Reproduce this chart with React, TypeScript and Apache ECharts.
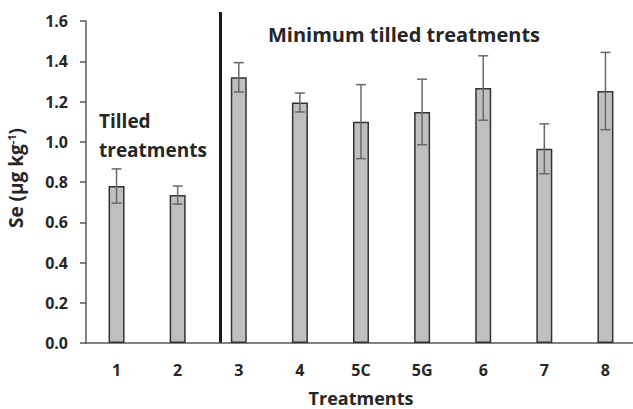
import React, { useEffect, useRef } from "react";
import * as echarts from "echarts";

const categories = ["1", "2", "3", "4", "5C", "5G", "6", "7", "8"];
const seMeans = [0.78, 0.735, 1.32, 1.195, 1.1, 1.148, 1.267, 0.965, 1.252];
const seErrors = [0.085, 0.045, 0.073, 0.047, 0.184, 0.163, 0.16, 0.124, 0.192];
const yTicks = { min: 0, max: 1.6, interval: 0.2 };

const FONT = "Open Sans";

export default function App() {
  const ref = useRef<HTMLDivElement>(null);
  useEffect(() => {
    document.body.style.margin = "0";
    document.body.style.overflow = "hidden";
    const chart = echarts.init(ref.current!, null, { renderer: "svg" });
    const errData = categories.map((c, i) => [i, seMeans[i] - seErrors[i], seMeans[i] + seErrors[i]]);
    chart.setOption({
      animation: false,
      backgroundColor: "#ffffff",
      grid: { left: 86, top: 21, bottom: 66, right: -3, containLabel: false, outerBoundsMode: "none" },
      xAxis: {
        type: "category",
        data: categories,
        axisLine: { lineStyle: { color: "#595959", width: 1.5 } },
        axisTick: { show: false },
        axisLabel: { color: "#262626", fontFamily: FONT, fontWeight: "bold", fontSize: 16, margin: 19 },
        name: "Treatments",
        nameLocation: "middle",
        nameGap: 46,
        nameTextStyle: { color: "#262626", fontFamily: FONT, fontWeight: "bold", fontSize: 18 },
      },
      yAxis: {
        type: "value",
        min: yTicks.min,
        max: yTicks.max,
        interval: yTicks.interval,
        splitLine: { show: false },
        axisLine: { show: true, lineStyle: { color: "#595959", width: 1.5 } },
        axisTick: { show: true, length: 6, lineStyle: { color: "#595959", width: 1.5 } },
        axisLabel: {
          color: "#262626", fontFamily: FONT, fontWeight: "bold", fontSize: 16, margin: 18,
          formatter: (v: number) => v.toFixed(1),
        },
        name: "{a|Se (µg kg}{s|-1}{a|)}",
        nameLocation: "middle",
        nameGap: 61,
        nameRotate: 90,
        nameTextStyle: {
          padding: [0, 0, 0, 8],
          rich: {
            a: { color: "#262626", fontFamily: FONT, fontWeight: "bold", fontSize: 19 },
            s: { color: "#262626", fontFamily: FONT, fontWeight: "bold", fontSize: 11, verticalAlign: "top", padding: [0, 0, 8, 0] },
          },
        },
      },
      series: [
        {
          type: "bar",
          data: seMeans,
          barWidth: 16,
          itemStyle: { color: "#bfbfbf", borderColor: "#333333", borderWidth: 1.5 },
        },
        {
          type: "custom",
          data: errData,
          z: 10,
          renderItem: (params: any, api: any) => {
            const x = api.coord([api.value(0), 0])[0];
            const lo = api.coord([api.value(0), api.value(1)])[1];
            const hi = api.coord([api.value(0), api.value(2)])[1];
            const hw = 5;
            const st = { stroke: "#686868", lineWidth: 1.5 };
            return {
              type: "group",
              children: [
                { type: "line", shape: { x1: x, y1: lo, x2: x, y2: hi }, style: st },
                { type: "line", shape: { x1: x - hw, y1: lo, x2: x + hw, y2: lo }, style: st },
                { type: "line", shape: { x1: x - hw, y1: hi, x2: x + hw, y2: hi }, style: st },
              ],
            };
          },
        },
      ],
      graphic: [
        { type: "line", shape: { x1: 220.5, y1: 12, x2: 220.5, y2: 343 }, style: { stroke: "#1a1a1a", lineWidth: 3 } },
        {
          type: "text", x: 268, y: 34,
          style: { text: "Minimum tilled treatments", fill: "#262626", font: `bold 20px "${FONT}"`, verticalAlign: "middle" },
        },
        {
          type: "text", x: 99, y: 135,
          style: { text: "Tilled\ntreatments", fill: "#262626", font: `bold 19px "${FONT}"`, lineHeight: 29, verticalAlign: "middle" },
        },
      ],
    });
    return () => chart.dispose();
  }, []);
  return <div ref={ref} style={{ width: 633, height: 409, position: "absolute", left: 0, top: 0, overflow: "hidden" }} />;
}
